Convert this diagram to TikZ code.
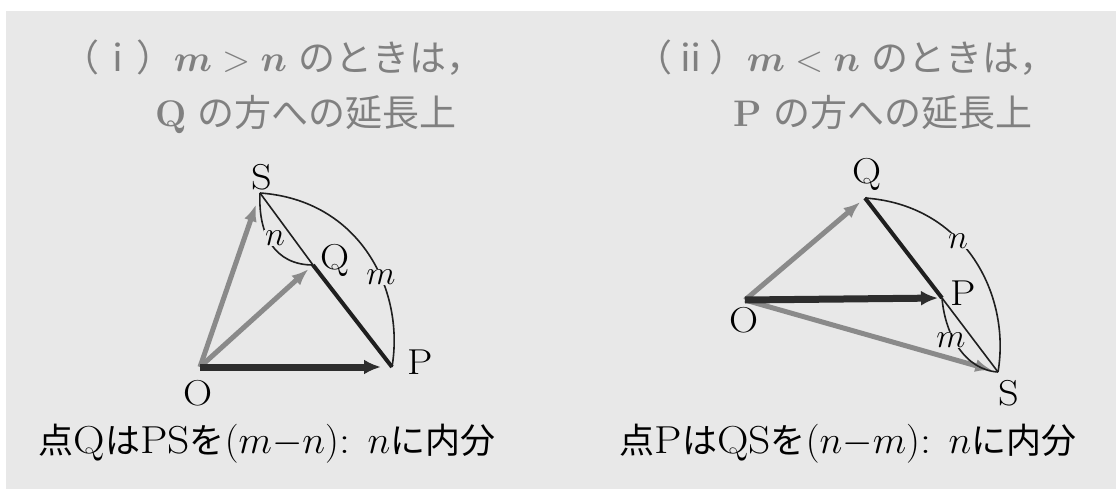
\RequirePackage{fix-cm}
\documentclass[tikz,border=0pt]{standalone}
\usepackage{fontspec}
\usepackage{bm}
\newfontfamily\jp{Noto Sans CJK JP}
\newfontfamily\lw{Latin Modern Roman}[FakeStretch=1.12]
\newcommand\jpc[1]{{\fontsize{35}{40}\selectfont\jp #1}}
\usetikzlibrary{arrows.meta}
\definecolor{bgc}{RGB}{232,232,232}
\definecolor{grayarr}{RGB}{138,138,138}
\definecolor{darkarr}{RGB}{45,45,45}
\definecolor{titlec}{RGB}{128,128,128}
\begin{document}
\begin{tikzpicture}[x=1pt,y=-1pt,
 garrow/.style={draw=grayarr,line width=5pt,-{Latex[length=17pt,width=13pt]},shorten >=6pt},
 darrow/.style={draw=darkarr,line width=7pt,-{Latex[length=17pt,width=15pt]},shorten >=6pt},
 thinl/.style={draw=black!88,line width=1.6pt},
 thickl/.style={draw=black!88,line width=4pt},
 lab/.style={font=\fontsize{36}{40}\selectfont\lw,inner sep=0pt},
 seglab/.style={font=\fontsize{34}{36}\selectfont,inner sep=1pt,fill=bgc},
 ttl/.style={font=\fontsize{37}{40}\selectfont,text=titlec,inner sep=0pt,anchor=base},
 captxt/.style={font=\fontsize{39}{42}\selectfont\lw,inner sep=0pt,anchor=base}]
\useasboundingbox (0,0) rectangle (1119,489);
\fill[bgc] (6,11) rectangle (1116,489);

% titles
\node[ttl] (t1a) at (273,72) {{\jp （ⅰ）}$\bm{m}>\bm{n}$ {\jp のときは，}};
\node[ttl] (t1b) at (306,127) {\textbf{Q} {\jp の方への延長上}};
\node[ttl] (t2a) at (846,72) {{\jp （ⅱ）}$\bm{m}<\bm{n}$ {\jp のときは，}};
\node[ttl] (t2b) at (883,127) {\textbf{P} {\jp の方への延長上}};

% left diagram
\coordinate (O1) at (200,367);
\coordinate (P1) at (392,367);
\coordinate (S1) at (260,193);
\coordinate (Q1) at (313,265);
\draw[garrow,shorten >=12pt] (O1) -- (S1);
\draw[garrow] (O1) -- (Q1);
\draw[darrow,shorten >=11pt] (O1) -- (P1);
\draw[thinl] (S1) -- (Q1);
\draw[thickl] (Q1) -- (P1);
\draw[thinl] (S1) .. controls +(100,7) and +(13,-77) .. (P1);
\draw[thinl] (S1) .. controls +(-2,42) and +(-38,0) .. (Q1);
\node[lab] (lS1) at (262,177) {S};
\node[lab] (lO1) at (198,393) {O};
\node[lab] (lP1) at (420,362) {P};
\node[lab] (lQ1) at (335,260) {Q};
\node[seglab] (ln1) at (275,238) {$n$};
\node[seglab] (lm1) at (381,277) {$m$};

% right diagram
\coordinate (O2) at (745,300);
\coordinate (Q2) at (865,198);
\coordinate (P2) at (942,298);
\coordinate (S2) at (998,372);
\draw[garrow] (O2) -- (Q2);
\draw[garrow] (O2) -- (S2);
\draw[darrow,shorten >=4pt] (O2) -- (P2);
\draw[thickl] (Q2) -- (P2);
\draw[thinl] (P2) -- (S2);
\draw[thinl] (Q2) .. controls +(100,7) and +(13,-77) .. (S2);
\draw[thinl] (P2) .. controls +(3,37) and +(-33,-2) .. (S2);
\node[lab] (lQ2) at (867,174) {Q};
\node[lab] (lP2) at (963,293) {P};
\node[lab] (lS2) at (1009,393) {S};
\node[lab] (lO2) at (744,320) {O};
\node[seglab] (ln2) at (958,241) {$n$};
\node[seglab] (lm2) at (951,340) {$m$};

% captions
\node[captxt] (c1) at (267,453) {\jpc{点}Q\jpc{は}PS\jpc{を}$(m{-}n)$: $n$\jpc{に内分}};
\node[captxt] (c2) at (848,453) {\jpc{点}P\jpc{は}QS\jpc{を}$(n{-}m)$: $n$\jpc{に内分}};
\end{tikzpicture}
\end{document}
